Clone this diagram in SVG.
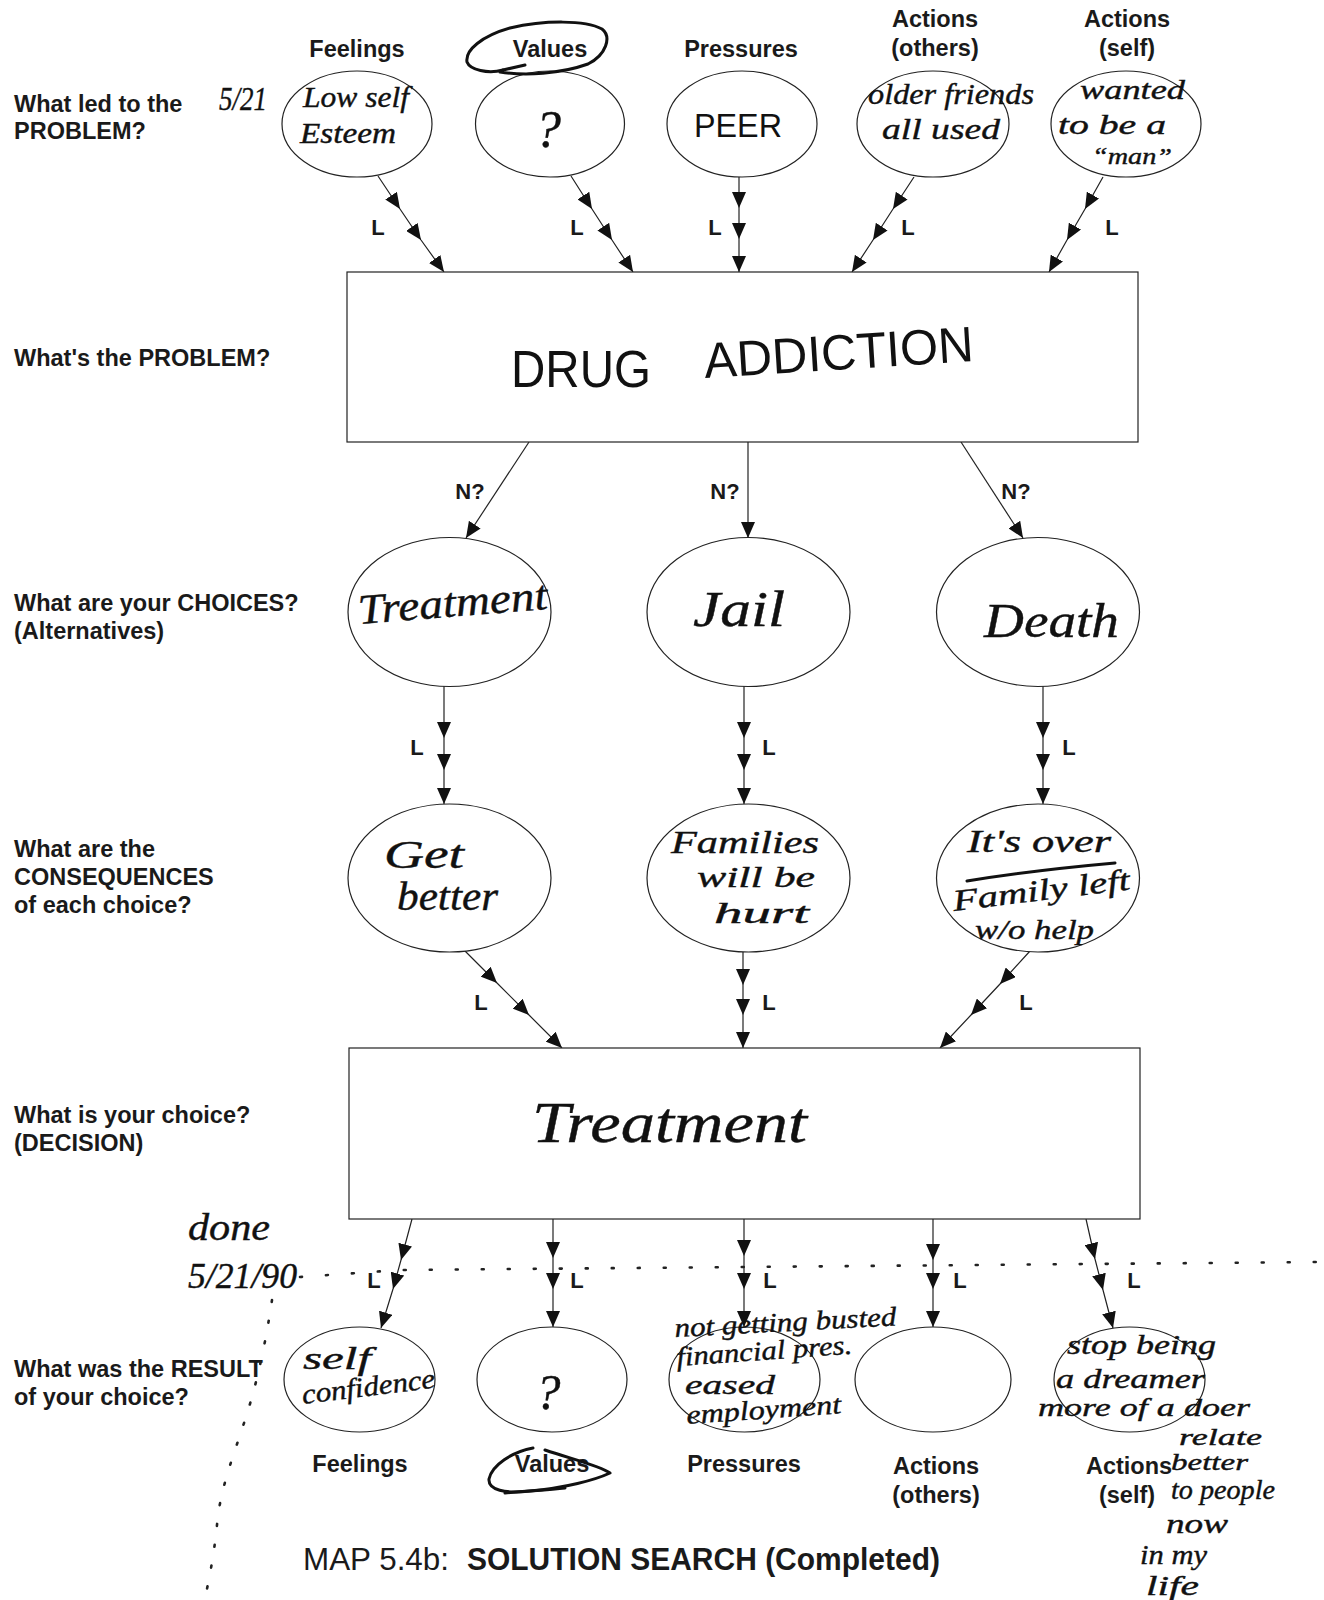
<svg xmlns="http://www.w3.org/2000/svg" width="1324" height="1600" viewBox="0 0 1324 1600">
  <style>
    .q { font-family: "Liberation Sans", Arial, sans-serif; font-weight: bold; font-size: 23.5px; fill: #1a1a1a; }
    .col { font-family: "Liberation Sans", Arial, sans-serif; font-weight: bold; font-size: 23.5px; fill: #1a1a1a; text-anchor: middle; }
    .tag { font-family: "Liberation Sans", Arial, sans-serif; font-weight: bold; font-size: 22px; fill: #1a1a1a; text-anchor: middle; }
    .hand { font-family: "Liberation Serif", "Times New Roman", serif; font-style: italic; font-size: 30px; fill: #111; stroke: #111; stroke-width: 0.4; }
    .print { font-family: "Liberation Sans", Arial, sans-serif; font-size: 34px; fill: #111; }
    .node { fill: #fff; stroke: #222; stroke-width: 1.2; }
    .edge { fill: none; stroke: #222; stroke-width: 1.2; marker-mid: url(#ah); marker-end: url(#ah); }
    .edge1 { fill: none; stroke: #222; stroke-width: 1.2; marker-end: url(#ah); }
    .ink { fill: none; stroke: #111; stroke-width: 3; stroke-linecap: round; stroke-linejoin: round; }
    .dots { fill: none; stroke: #222; stroke-width: 2.6; stroke-linecap: round; }
    .title { font-family: "Liberation Sans", Arial, sans-serif; font-size: 31px; fill: #1a1a1a; }
  </style>
  <defs>
    <marker id="ah" viewBox="0 0 16 14" refX="16" refY="7" markerWidth="16" markerHeight="14" markerUnits="userSpaceOnUse" orient="auto">
      <path d="M0,0 L16,7 L0,14 Z" fill="#111"/>
    </marker>
  </defs>

  <rect width="1324" height="1600" fill="#fff"/>

  <!-- row questions down the left margin -->
  <g id="row-labels">
    <text class="q" x="14" y="112">What led to the</text>
    <text class="q" x="14" y="139">PROBLEM?</text>
    <text class="q" x="14" y="366">What's the PROBLEM?</text>
    <text class="q" x="14" y="611">What are your CHOICES?</text>
    <text class="q" x="14" y="639">(Alternatives)</text>
    <text class="q" x="14" y="857">What are the</text>
    <text class="q" x="14" y="885">CONSEQUENCES</text>
    <text class="q" x="14" y="913">of each choice?</text>
    <text class="q" x="14" y="1123">What is your choice?</text>
    <text class="q" x="14" y="1151">(DECISION)</text>
    <text class="q" x="14" y="1377">What was the RESULT</text>
    <text class="q" x="14" y="1405">of your choice?</text>
  </g>

  <!-- category headings above the causes and below the results -->
  <g id="column-labels">
    <text class="col" x="357" y="57">Feelings</text>
    <text class="col" x="550" y="57">Values</text>
    <text class="col" x="741" y="57">Pressures</text>
    <text class="col" x="935" y="27">Actions</text>
    <text class="col" x="935" y="56">(others)</text>
    <text class="col" x="1127" y="27">Actions</text>
    <text class="col" x="1127" y="56">(self)</text>

    <text class="col" x="360" y="1472">Feelings</text>
    <text class="col" x="552" y="1472">Values</text>
    <text class="col" x="744" y="1472">Pressures</text>
    <text class="col" x="936" y="1474">Actions</text>
    <text class="col" x="936" y="1503">(others)</text>
    <text class="col" x="1129" y="1474">Actions</text>
    <text class="col" x="1127" y="1503">(self)</text>
  </g>

  <!-- connectors -->
  <g id="connectors">
    <!-- causes into the problem -->
    <polyline class="edge" points="378,176 400,209 421,240 444,272"/>
    <polyline class="edge" points="571,176 592,209 612,240 633,272"/>
    <polyline class="edge" points="739,177 739,208 739,239 739,272"/>
    <polyline class="edge" points="914,177 893,209 873,240 852,272"/>
    <polyline class="edge" points="1103,177 1085,209 1067,240 1049,272"/>
    <text class="tag" x="378" y="235">L</text>
    <text class="tag" x="577" y="235">L</text>
    <text class="tag" x="715" y="235">L</text>
    <text class="tag" x="908" y="235">L</text>
    <text class="tag" x="1112" y="235">L</text>

    <!-- problem to choices -->
    <line class="edge1" x1="529" y1="442" x2="466" y2="538"/>
    <line class="edge1" x1="748" y1="442" x2="748" y2="538"/>
    <line class="edge1" x1="961" y1="442" x2="1023" y2="538"/>
    <text class="tag" x="470" y="499">N?</text>
    <text class="tag" x="725" y="499">N?</text>
    <text class="tag" x="1016" y="499">N?</text>

    <!-- choices to consequences -->
    <polyline class="edge" points="444,686 444,738 444,770 444,804"/>
    <polyline class="edge" points="744,686 744,738 744,770 744,804"/>
    <polyline class="edge" points="1043,686 1043,738 1043,770 1043,804"/>
    <text class="tag" x="417" y="755">L</text>
    <text class="tag" x="769" y="755">L</text>
    <text class="tag" x="1069" y="755">L</text>

    <!-- consequences into the decision -->
    <polyline class="edge" points="465,951 497,983 529,1015 562,1048"/>
    <polyline class="edge" points="743,952 743,985 743,1015 743,1048"/>
    <polyline class="edge" points="1030,951 1000,984 971,1015 940,1048"/>
    <text class="tag" x="481" y="1010">L</text>
    <text class="tag" x="769" y="1010">L</text>
    <text class="tag" x="1026" y="1010">L</text>

    <!-- decision to results -->
    <polyline class="edge" points="412,1219 401,1260 393,1289 381,1328"/>
    <polyline class="edge" points="553,1219 553,1258 553,1289 553,1327"/>
    <polyline class="edge" points="744,1219 744,1256 744,1289 744,1327"/>
    <polyline class="edge" points="933,1219 933,1260 933,1289 933,1327"/>
    <polyline class="edge" points="1086,1219 1095,1259 1103,1290 1113,1328"/>
    <text class="tag" x="374" y="1288">L</text>
    <text class="tag" x="577" y="1288">L</text>
    <text class="tag" x="770" y="1288">L</text>
    <text class="tag" x="960" y="1288">L</text>
    <text class="tag" x="1134" y="1288">L</text>
  </g>

  <!-- causes -->
  <g id="cause-feelings">
    <ellipse class="node" cx="357" cy="124" rx="75" ry="53"/>
    <text class="hand" x="303" y="107" textLength="106" lengthAdjust="spacingAndGlyphs">Low self</text>
    <text class="hand" x="300" y="143" textLength="96" lengthAdjust="spacingAndGlyphs">Esteem</text>
  </g>
  <g id="cause-values">
    <ellipse class="node" cx="550" cy="124" rx="74.5" ry="53"/>
    <text class="hand" x="548" y="147" text-anchor="middle" style="font-size:52px">?</text>
  </g>
  <g id="cause-pressures">
    <ellipse class="node" cx="742" cy="124" rx="75" ry="53"/>
    <text class="print" x="694" y="137" textLength="88" lengthAdjust="spacingAndGlyphs" style="font-size:34px">PEER</text>
  </g>
  <g id="cause-actions-others">
    <ellipse class="node" cx="933" cy="124" rx="76" ry="53"/>
    <text class="hand" x="868" y="104" textLength="166" lengthAdjust="spacingAndGlyphs">older friends</text>
    <text class="hand" x="882" y="139" textLength="118" lengthAdjust="spacingAndGlyphs">all used</text>
  </g>
  <g id="cause-actions-self">
    <ellipse class="node" cx="1126" cy="124" rx="75" ry="53"/>
    <text class="hand" x="1080" y="99" textLength="105" lengthAdjust="spacingAndGlyphs" style="font-size:28px">wanted</text>
    <text class="hand" x="1058" y="134" textLength="108" lengthAdjust="spacingAndGlyphs" style="font-size:27px">to be a</text>
    <text class="hand" x="1092" y="164" textLength="80" lengthAdjust="spacingAndGlyphs" style="font-size:23px">“man”</text>
  </g>

  <!-- problem -->
  <g id="problem">
    <rect class="node" x="347" y="272" width="791" height="170" stroke-width="1.5"/>
    <text class="print" x="511" y="387" textLength="140" lengthAdjust="spacingAndGlyphs" style="font-size:52px">DRUG</text>
    <text class="print" x="705" y="378" textLength="270" lengthAdjust="spacingAndGlyphs" transform="rotate(-3.6 705 378)" style="font-size:50px">ADDICTION</text>
  </g>

  <!-- choices -->
  <g id="choice-treatment">
    <ellipse class="node" cx="449.5" cy="612" rx="101.5" ry="74.5"/>
    <text class="hand" x="359" y="624" textLength="190" lengthAdjust="spacingAndGlyphs" transform="rotate(-4.5 359 624)" style="font-size:42px">Treatment</text>
  </g>
  <g id="choice-jail">
    <ellipse class="node" cx="748.5" cy="612" rx="101.5" ry="74.5"/>
    <text class="hand" x="693" y="626" textLength="92" lengthAdjust="spacingAndGlyphs" style="font-size:50px">Jail</text>
  </g>
  <g id="choice-death">
    <ellipse class="node" cx="1038" cy="612" rx="101.5" ry="74.5"/>
    <text class="hand" x="984" y="637" textLength="135" lengthAdjust="spacingAndGlyphs" style="font-size:48px">Death</text>
  </g>

  <!-- consequences -->
  <g id="consequence-treatment">
    <ellipse class="node" cx="449.5" cy="878" rx="101.5" ry="74"/>
    <text class="hand" x="384" y="868" textLength="80" lengthAdjust="spacingAndGlyphs" style="font-size:40px">Get</text>
    <text class="hand" x="397" y="910" textLength="101" lengthAdjust="spacingAndGlyphs" style="font-size:40px">better</text>
  </g>
  <g id="consequence-jail">
    <ellipse class="node" cx="748.5" cy="878" rx="101.5" ry="74"/>
    <text class="hand" x="671" y="853" textLength="148" lengthAdjust="spacingAndGlyphs" style="font-size:31px">Families</text>
    <text class="hand" x="697" y="887" textLength="118" lengthAdjust="spacingAndGlyphs" style="font-size:30px">will be</text>
    <text class="hand" x="714" y="923" textLength="95" lengthAdjust="spacingAndGlyphs" style="font-size:30px">hurt</text>
  </g>
  <g id="consequence-death">
    <ellipse class="node" cx="1038" cy="878" rx="101.5" ry="74"/>
    <text class="hand" x="967" y="852" textLength="144" lengthAdjust="spacingAndGlyphs" style="font-size:32px">It's over</text>
    <path class="ink" d="M967,881 C1010,874 1070,867 1115,863" stroke-width="3.5"/>
    <text class="hand" x="954" y="911" textLength="178" lengthAdjust="spacingAndGlyphs" transform="rotate(-7 954 911)" style="font-size:30px">Family left</text>
    <text class="hand" x="975" y="939" textLength="119" lengthAdjust="spacingAndGlyphs" style="font-size:28px">w/o help</text>
  </g>

  <!-- decision -->
  <g id="decision">
    <rect class="node" x="349" y="1048" width="791" height="171" stroke-width="1.5"/>
    <text class="hand" x="532" y="1142" textLength="275" lengthAdjust="spacingAndGlyphs" style="font-size:56px">Treatment</text>
  </g>

  <!-- results -->
  <g id="result-feelings">
    <ellipse class="node" cx="359.5" cy="1379.5" rx="75.5" ry="52.5"/>
    <text class="hand" x="303" y="1369" textLength="68" lengthAdjust="spacingAndGlyphs" style="font-size:32px">self</text>
    <text class="hand" x="303" y="1404" textLength="134" lengthAdjust="spacingAndGlyphs" transform="rotate(-7 303 1404)" style="font-size:28px">confidence</text>
  </g>
  <g id="result-values">
    <ellipse class="node" cx="552" cy="1379.5" rx="75" ry="52.5"/>
    <text class="hand" x="548" y="1409" text-anchor="middle" style="font-size:50px">?</text>
  </g>
  <g id="result-pressures">
    <ellipse class="node" cx="744.5" cy="1379.5" rx="75.5" ry="52.5"/>
    <text class="hand" x="675" y="1337" textLength="222" lengthAdjust="spacingAndGlyphs" transform="rotate(-3 675 1337)" style="font-size:27px">not getting busted</text>
    <text class="hand" x="677" y="1366" textLength="176" lengthAdjust="spacingAndGlyphs" transform="rotate(-4 677 1366)" style="font-size:27px">financial pres.</text>
    <text class="hand" x="685" y="1394" textLength="90" lengthAdjust="spacingAndGlyphs" style="font-size:27px">eased</text>
    <text class="hand" x="687" y="1424" textLength="155" lengthAdjust="spacingAndGlyphs" transform="rotate(-4 687 1424)" style="font-size:27px">employment</text>
  </g>
  <g id="result-actions-others">
    <ellipse class="node" cx="933" cy="1379.5" rx="78" ry="52.5"/>
  </g>
  <g id="result-actions-self">
    <ellipse class="node" cx="1129.5" cy="1379.5" rx="75.5" ry="52.5"/>
    <text class="hand" x="1067" y="1354" textLength="149" lengthAdjust="spacingAndGlyphs" style="font-size:27px">stop being</text>
    <text class="hand" x="1056" y="1388" textLength="149" lengthAdjust="spacingAndGlyphs" style="font-size:27px">a dreamer</text>
    <text class="hand" x="1038" y="1416" textLength="212" lengthAdjust="spacingAndGlyphs" style="font-size:26px">more of a doer</text>
  </g>

  <!-- pen notes written around the printed form -->
  <g id="notes">
    <text class="hand" x="219" y="110" textLength="48" lengthAdjust="spacingAndGlyphs" style="font-size:34px">5/21</text>
    <path class="ink" d="M503,70 C488,74 470,70 467,62 C465,50 482,36 510,28 C545,20 585,20 602,29 C612,37 606,55 588,64 C560,74 525,76 500,72"/>
    <path class="ink" d="M503,70 L525,65" stroke-width="2.5"/>
    <path class="ink" d="M533,1448 C512,1452 492,1465 489,1479 C488,1490 505,1494 530,1491 C565,1488 595,1480 610,1473 C600,1466 575,1460 545,1450" stroke-width="2.6"/>
    <path class="ink" d="M505,1493 C525,1491 548,1490 565,1488" stroke-width="2"/>

    <text class="hand" x="188" y="1240" textLength="82" lengthAdjust="spacingAndGlyphs" style="font-size:38px">done</text>
    <text class="hand" x="188" y="1288" textLength="109" lengthAdjust="spacingAndGlyphs" style="font-size:36px">5/21/90</text>

    <text class="hand" x="1179" y="1445" textLength="83" lengthAdjust="spacingAndGlyphs" style="font-size:24px">relate</text>
    <text class="hand" x="1171" y="1470" textLength="77" lengthAdjust="spacingAndGlyphs" style="font-size:24px">better</text>
    <text class="hand" x="1171" y="1499" textLength="104" lengthAdjust="spacingAndGlyphs" style="font-size:27px">to people</text>
    <text class="hand" x="1166" y="1533" textLength="62" lengthAdjust="spacingAndGlyphs" style="font-size:28px">now</text>
    <text class="hand" x="1140" y="1564" textLength="67" lengthAdjust="spacingAndGlyphs" style="font-size:28px">in my</text>
    <text class="hand" x="1146" y="1595" textLength="53" lengthAdjust="spacingAndGlyphs" style="font-size:28px">life</text>

    <path class="dots" d="M300,1277 L400,1270 L1320,1262" stroke-dasharray="2 24"/>
    <path class="dots" d="M272,1300 C266,1340 258,1380 245,1420 C232,1460 220,1490 217,1525 C214,1555 209,1580 205,1598" stroke-dasharray="2 19"/>
  </g>

  <!-- caption -->
  <g id="caption">
    <text class="title" x="303" y="1570" textLength="146" lengthAdjust="spacingAndGlyphs">MAP 5.4b:</text>
    <text class="title" x="467" y="1570" font-weight="bold" textLength="473" lengthAdjust="spacingAndGlyphs">SOLUTION SEARCH (Completed)</text>
  </g>
</svg>
